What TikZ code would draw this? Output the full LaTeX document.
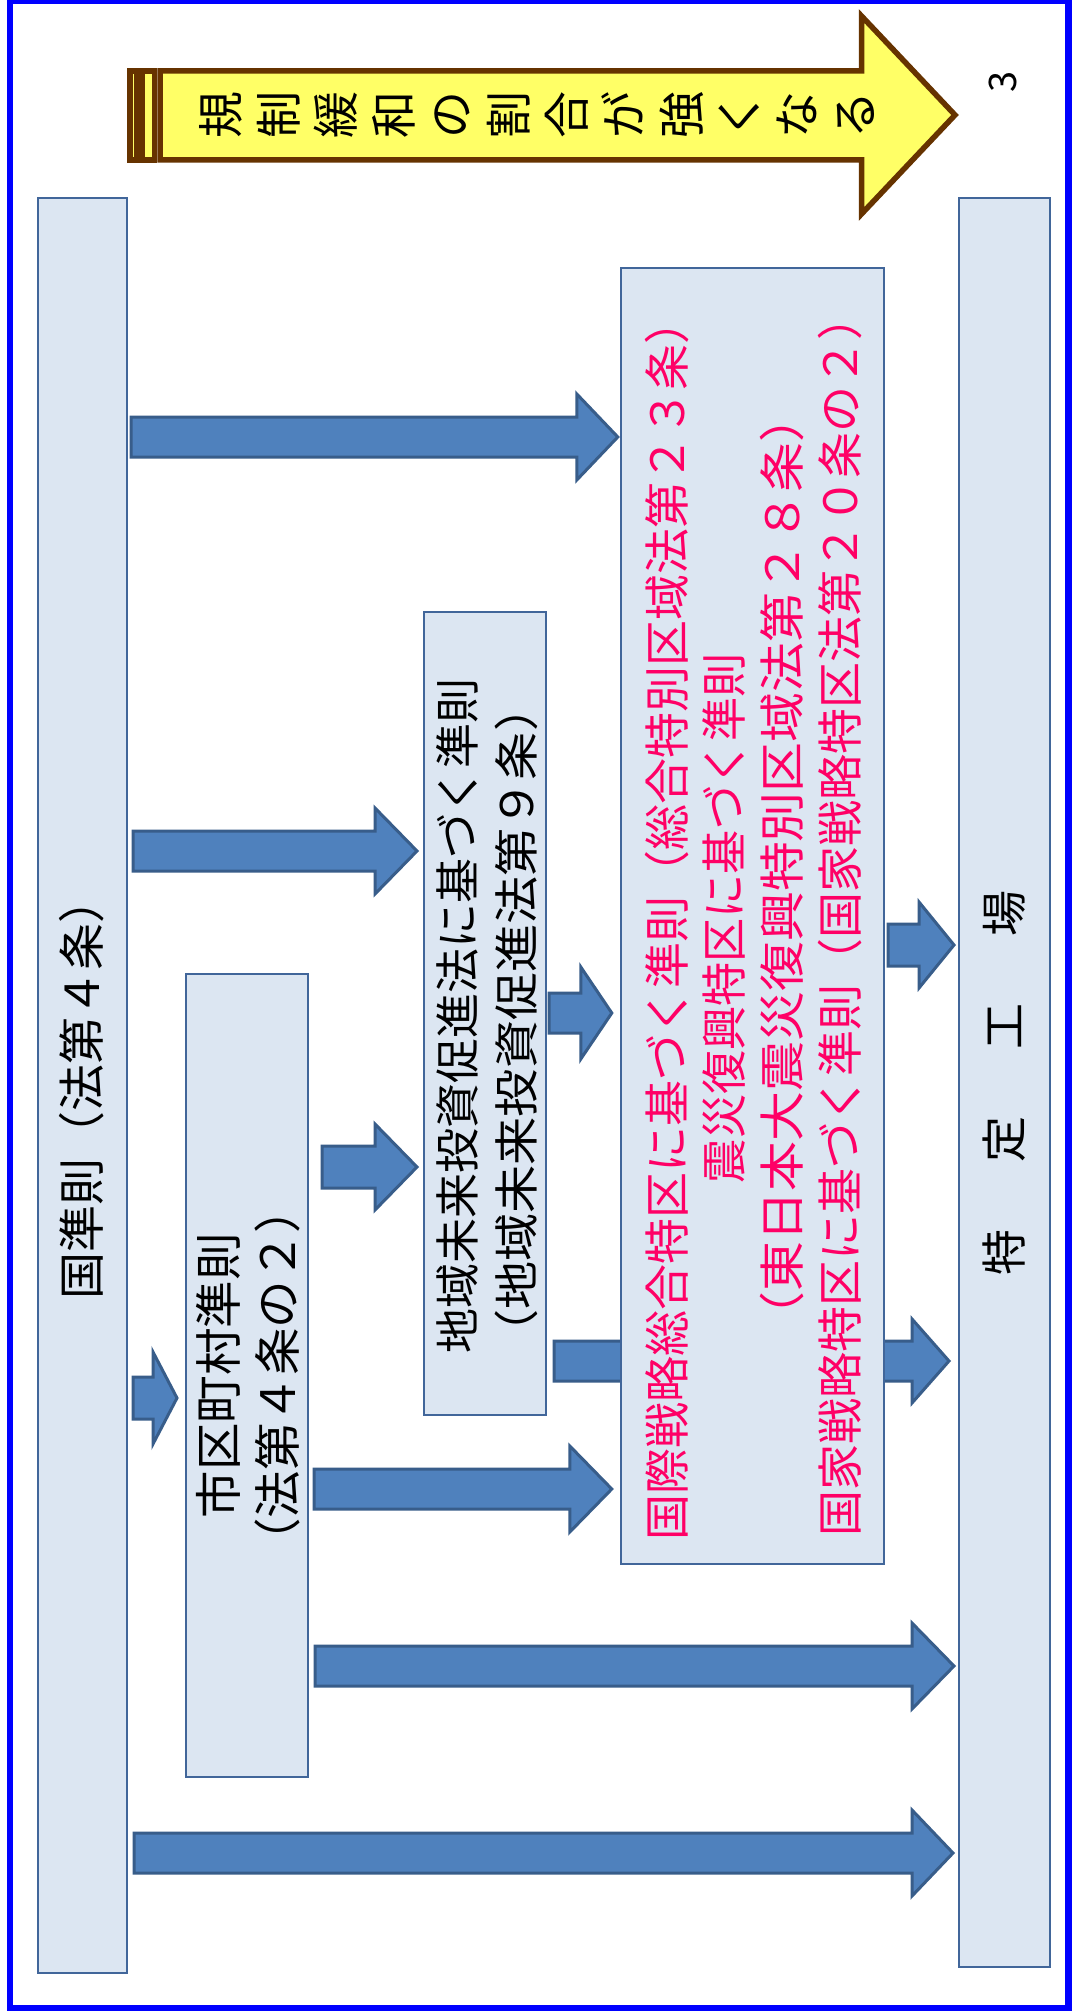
\documentclass[tikz,border=0pt]{standalone}
\usepackage{fontspec}
\newfontfamily\jp{Noto Sans CJK JP}
\usetikzlibrary{calc}
\definecolor{boxfill}{HTML}{DCE6F2}
\definecolor{boxline}{HTML}{41669A}
\definecolor{arrfill}{HTML}{4F81BD}
\definecolor{arrline}{HTML}{385D8A}
\definecolor{pinktxt}{HTML}{FF0066}
\definecolor{ybody}{HTML}{FFFF66}
\definecolor{ybrown}{HTML}{663300}
\definecolor{frameblue}{HTML}{0000FF}
\pgfdeclarelayer{back}
\pgfdeclarelayer{under}
\pgfsetlayers{back,under,main}
\tikzset{
  panel/.style={draw=boxline, line width=1pt, fill=boxfill, inner sep=0pt, rectangle},
  barrow/.style={draw=arrline, fill=arrfill, line width=1.5pt, line join=miter},
  ystripe/.style={draw=ybrown, fill=ybody, line width=2.75pt, line join=miter},
  jtext/.style={rotate=90, inner sep=0pt, text=black},
  pinkline/.style={jtext, text=pinktxt, font=\jp\fontsize{23}{23}\selectfont},
}
% #1 start, #2 tip, #3 head length, #4 shaft half, #5 head half
\newcommand\blockarrow[5]{%
  \draw[barrow] let \p1=#1, \p2=#2 in
    (\x1,{\y1+#4}) -- ({\x2-#3},{\y1+#4}) -- ({\x2-#3},{\y1+#5}) -- (\x2,\y1)
    -- ({\x2-#3},{\y1-#5}) -- ({\x2-#3},{\y1-#4}) -- (\x1,{\y1-#4}) -- cycle;}
\begin{document}
\begin{tikzpicture}[x=0.5pt,y=-0.5pt]
\useasboundingbox (0,0) rectangle (1072,2011);
\begin{pgfonlayer}{back}
  \fill[white] (0,0) rectangle (1072,2011);
  \fill[frameblue] (7,0) rectangle (1072,2011);
  \fill[white] (13,4) rectangle (1065,2005);
\end{pgfonlayer}

% yellow striped arrow
\draw[ystripe] (130,71) rectangle (136.5,160);
\draw[ystripe] (142,71) rectangle (154.5,160);
\draw[ystripe] (160,71) -- (861.5,71) -- (861.5,16) -- (955,115) -- (861.5,214) -- (861.5,160) -- (160,160) -- cycle;
\node[jtext, align=center, font=\jp\fontsize{23.5}{28.8}\selectfont] (ytext) at (536.8,115)
  {規\\制\\緩\\和\\の\\割\\合\\が\\強\\く\\な\\る};
\node[jtext, font=\jp\fontsize{19}{19}\selectfont] (pagenum) at (1003,82) {3};

% boxes
\node[panel, minimum width=44.5pt, minimum height=887.5pt] (gov) at (82,1085.5) {};
\node[panel, minimum width=45.5pt, minimum height=884.5pt] (tokutei) at (1004,1082.5) {};
\node[panel, minimum width=131.6pt, minimum height=648.15pt] (pink) at (752.4,915.8) {};
\node[panel, minimum width=61.25pt, minimum height=401.85pt] (chiiki) at (484.75,1013.5) {};
\node[panel, minimum width=61pt, minimum height=401.5pt] (shi) at (247,1375.5) {};

% texts
\node[jtext, anchor=west, font=\jp\fontsize{23.5}{23.5}\selectfont] (govtext) at (81.7,1300) {国準則（法第４条）};
\node[jtext, font=\jp\fontsize{23}{23}\selectfont] (toktext) at (1004,1083)
  {特\hspace{33.5pt}定\hspace{33.5pt}工\hspace{33.5pt}場};
\node[jtext, align=center, font=\jp\fontsize{23.75}{29.5}\selectfont] (shitext) at (248.5,1375.5)
  {市区町村準則\\（法第４条の２）};
\node[jtext, font=\jp\fontsize{22.5}{22.5}\selectfont] (chiiki1) at (457,1015.5) {地域未来投資促進法に基づく準則};
\node[jtext, xscale=1.07, font=\jp\fontsize{22.5}{22.5}\selectfont] (chiiki2) at (516.5,1020.8) {（地域未来投資促進法第９条）};
\node[pinkline, anchor=west] (pk1) at (667.5,1541) {国際戦略総合特区に基づく準則（総合特別区域法第２３条）};
\node[pinkline, anchor=west, xscale=0.96] (pk2) at (724,1183.5) {震災復興特区に基づく準則};
\node[pinkline, xscale=1.085] (pk3) at (782.5,867) {（東日本大震災復興特別区域法第２８条）};
\node[pinkline, anchor=west] (pk4) at (840,1537) {国家戦略特区に基づく準則（国家戦略特区法第２０条の２）};

% arrows
\begin{pgfonlayer}{under}
\blockarrow{($(chiiki.east|-0,1361)+(7,0)$)}{($(tokutei.west|-0,1361)+(-8.5,0)$)}{18.5pt}{10pt}{21pt}
\end{pgfonlayer}
\blockarrow{($(gov.east|-0,437)+(3.5,0)$)}{($(pink.west|-0,437)+(-2,0)$)}{20.5pt}{10pt}{21.5pt}
\blockarrow{($(gov.east|-0,851)+(5.5,0)$)}{($(chiiki.west|-0,851)+(-5.5,0)$)}{21pt}{10pt}{21.5pt}
\blockarrow{($(shi.east|-0,1167)+(13,0)$)}{($(chiiki.west|-0,1167)+(-5.5,0)$)}{21pt}{10.5pt}{21.5pt}
\blockarrow{($(chiiki.east|-0,1013)+(2,0)$)}{($(pink.west|-0,1013)+(-8,0)$)}{15.5pt}{10pt}{23pt}
\blockarrow{($(pink.east|-0,945)+(3,0)$)}{($(tokutei.west|-0,945)+(-3.5,0)$)}{17.5pt}{10.5pt}{21.5pt}
\blockarrow{($(shi.east|-0,1489)+(5,0)$)}{($(pink.west|-0,1489)+(-8,0)$)}{21pt}{10pt}{21.5pt}
\blockarrow{($(shi.east|-0,1666)+(6,0)$)}{($(tokutei.west|-0,1666)+(-3.5,0)$)}{21pt}{10pt}{21.5pt}
\blockarrow{($(gov.east|-0,1853)+(6.5,0)$)}{($(tokutei.west|-0,1853)+(-4.5,0)$)}{20.5pt}{10pt}{21.5pt}
\blockarrow{($(gov.east|-0,1398)+(5.5,0)$)}{($(shi.west|-0,1398)+(-8,0)$)}{12pt}{10.5pt}{23pt}
\end{tikzpicture}
\end{document}
